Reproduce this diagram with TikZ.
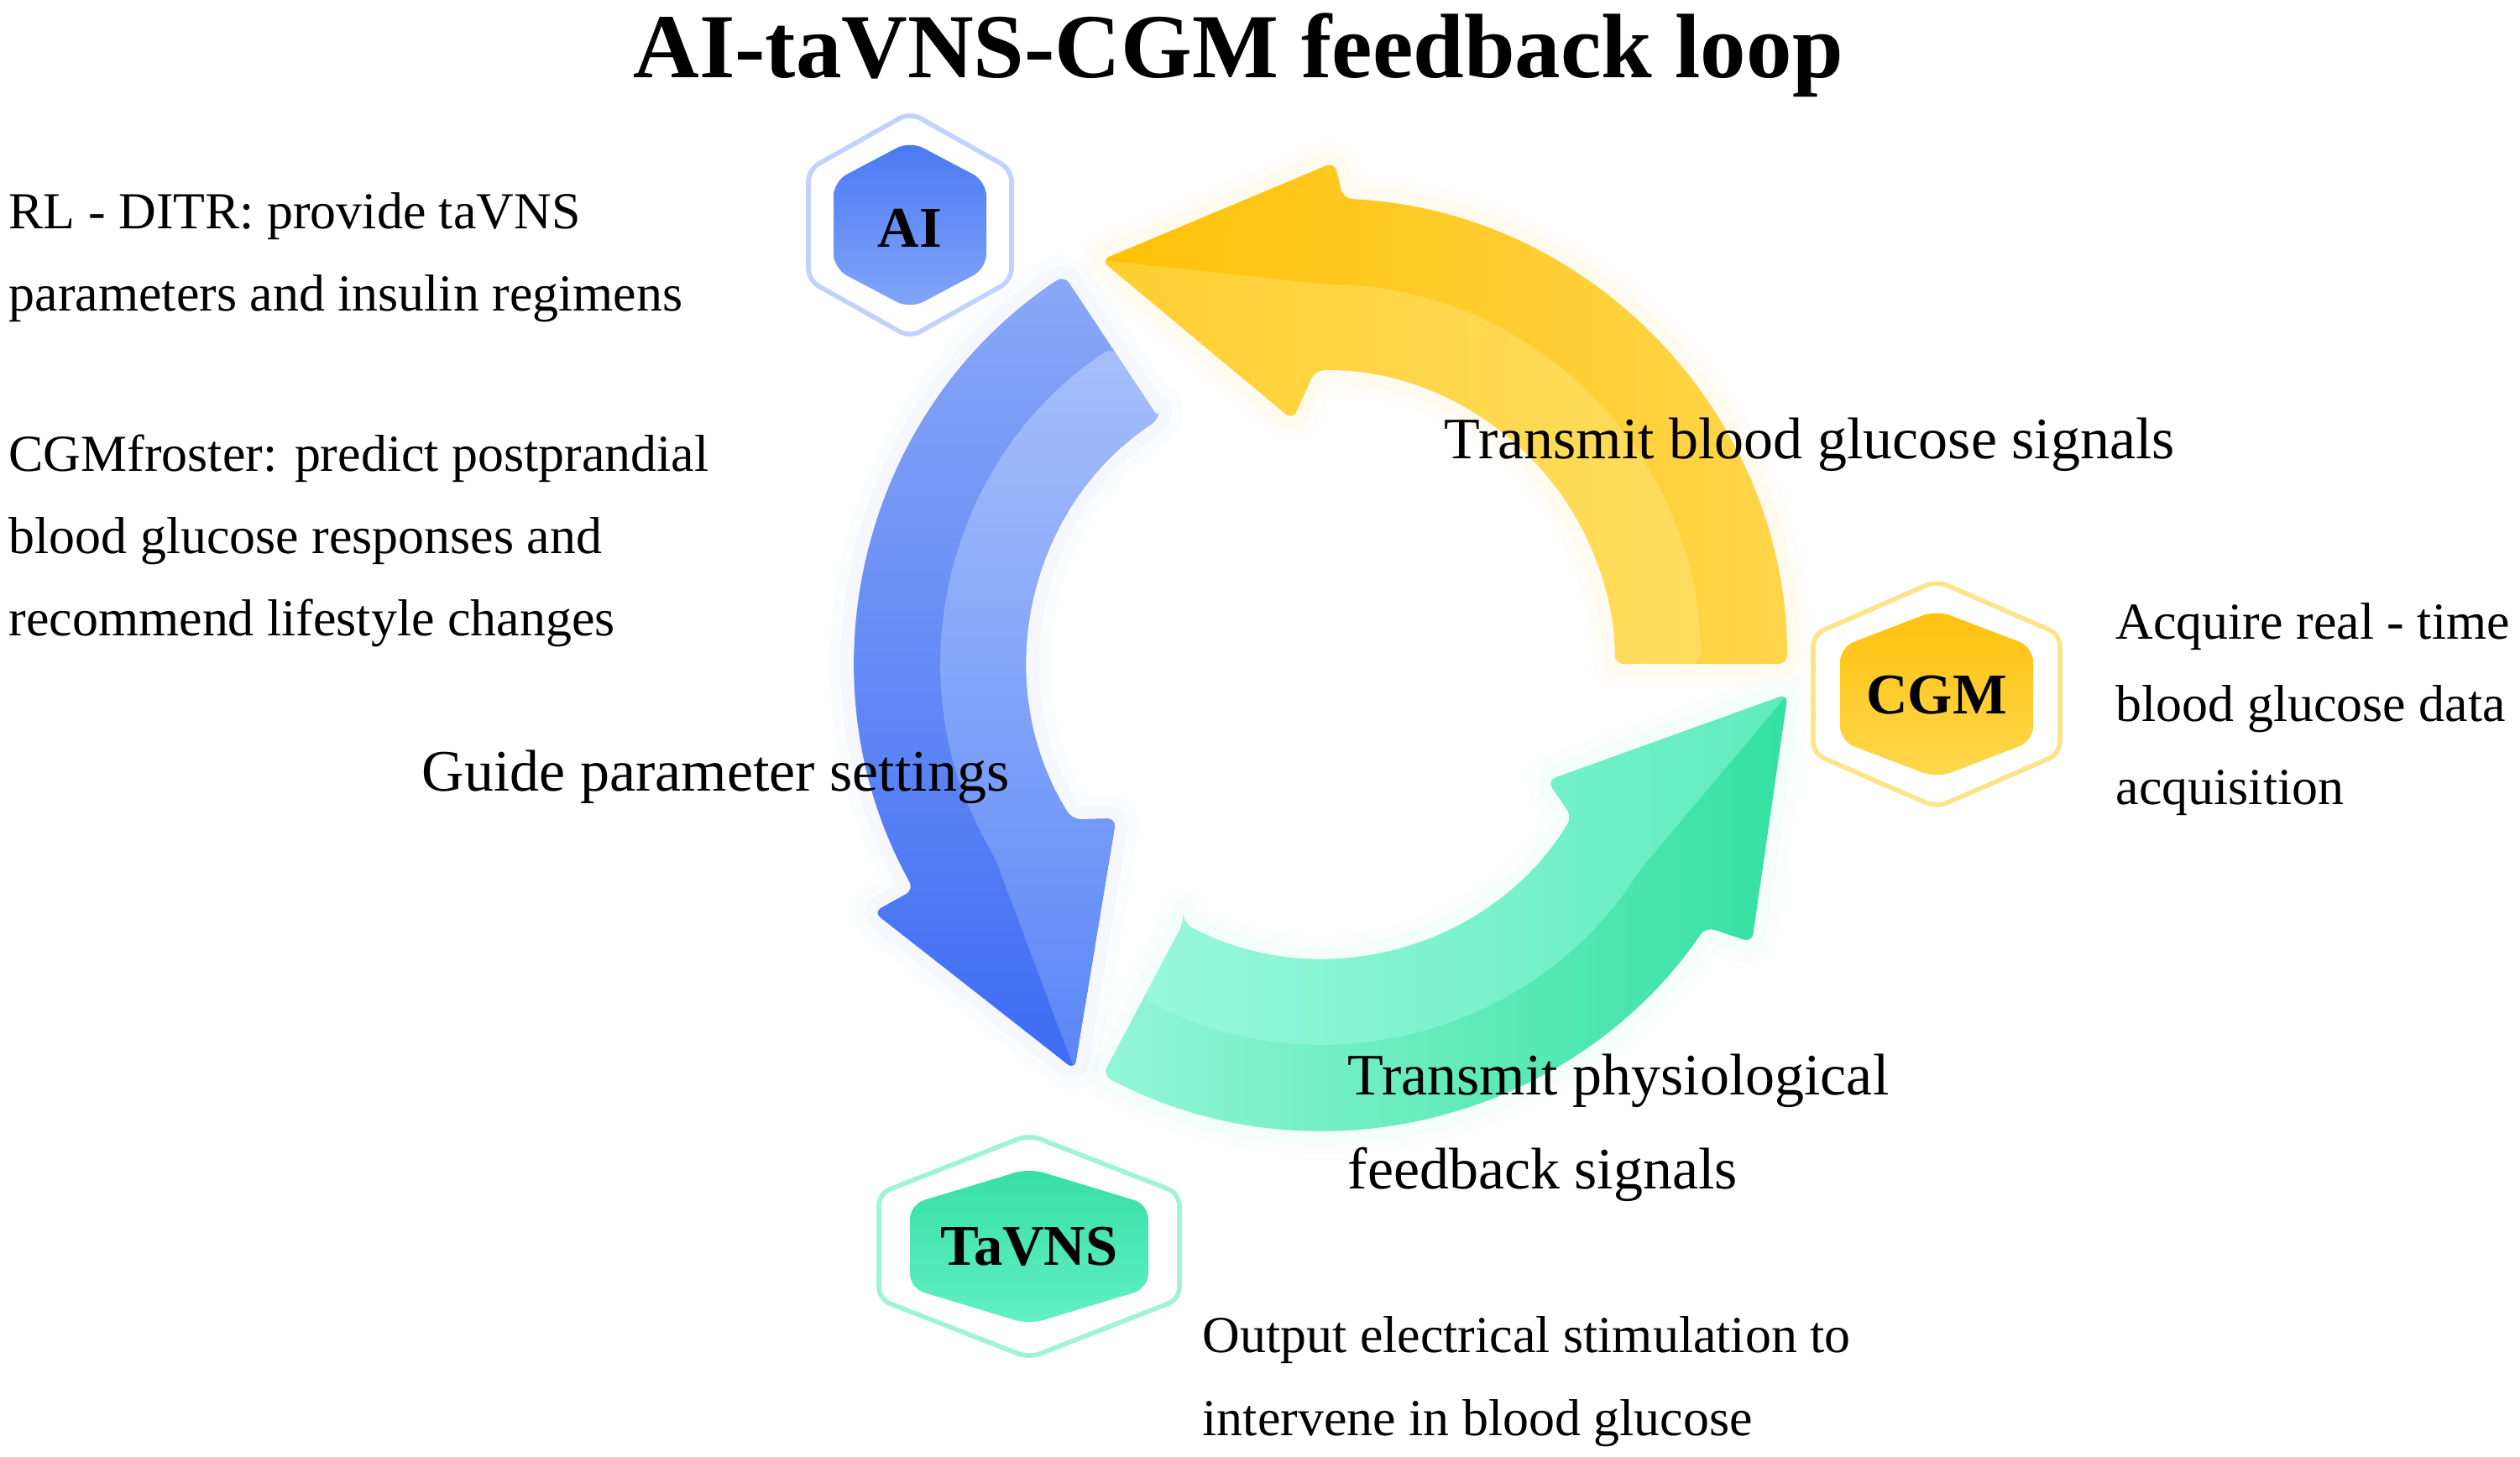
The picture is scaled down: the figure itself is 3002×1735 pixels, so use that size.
\documentclass[tikz,border=0pt]{standalone}
\usepackage{fontspec}
\setmainfont{Liberation Serif}
\usetikzlibrary{calc}
\definecolor{yOutA}{HTML}{FFC107}
\definecolor{yOutB}{HTML}{FFD54A}
\definecolor{yInA}{HTML}{FFCF30}
\definecolor{yInB}{HTML}{FFDD60}
\definecolor{bOutA}{HTML}{8AA8F7}
\definecolor{bOutB}{HTML}{3D6CF3}
\definecolor{bInA}{HTML}{A6BFFB}
\definecolor{bInB}{HTML}{5A86F6}
\definecolor{gOutA}{HTML}{93F6D6}
\definecolor{gOutM}{HTML}{86F2CF}
\definecolor{gOutB}{HTML}{34E0A2}
\definecolor{gInA}{HTML}{98F8DB}
\definecolor{gInM}{HTML}{8DF5D4}
\definecolor{gInB}{HTML}{5EECBD}
\definecolor{aiTop}{HTML}{4A78F4}
\definecolor{aiBot}{HTML}{82A6F9}
\definecolor{aiRing}{HTML}{C3D2FD}
\definecolor{cgmTop}{HTML}{FFC10D}
\definecolor{cgmBot}{HTML}{FFD84D}
\definecolor{cgmRing}{HTML}{FFE38A}
\definecolor{tvTop}{HTML}{36DFA5}
\definecolor{tvBot}{HTML}{62F0C4}
\definecolor{tvRing}{HTML}{A0F3D9}
\newcommand\hexagonpath[5]{({#1},{#2+#4}) -- ({#1+#3},{#2+#5}) -- ({#1+#3},{#2-#5}) -- ({#1},{#2-#4}) -- ({#1-#3},{#2-#5}) -- ({#1-#3},{#2+#5}) -- cycle}
\begin{document}
\begin{tikzpicture}[x=0.01cm,y=0.01cm,
  bodytext/.style={font=\fontsize{17.6}{27.9}\selectfont, align=left, anchor=base west, inner sep=0pt},
  looplabel/.style={font=\fontsize{19.9}{31.6}\selectfont, align=left, anchor=base west, inner sep=0pt},
  hexlabel/.style={font=\bfseries\fontsize{19.5}{22}\selectfont, inner sep=0pt},
  hexring/.style={line width=1.6pt, rounded corners=4pt},
  hexcore/.style={rounded corners=5pt}]
\fill[white] (0,0) rectangle (3002,1735);
\useasboundingbox (0,0) rectangle (3002,1735);

% title
\node[font=\bfseries\fontsize{31}{36}\selectfont, anchor=base, inner sep=0pt] (title) at (1475,1642) {AI-taVNS-CGM feedback loop};

% ring of arrows
\begin{scope}[shift={(1574,944)}, rounded corners=3pt]
\def\Ro{555}\def\Ri{350}\def\Rm{452}
% yellow
\def\yfull{(0:\Ri) -- (0:\Ro) arc[start angle=0,end angle=87.3,radius=\Ro] -- (88.5:598) -- (118.6:548) -- (96.7:293) -- (91.2:\Ri) arc[start angle=91.2,end angle=0,radius=\Ri] -- cycle}
\def\yhalf{(0:\Ri) -- (0:\Rm) arc[start angle=0,end angle=89.2,radius=\Rm] -- (118.6:548) -- (96.7:293) -- (91.2:\Ri) arc[start angle=91.2,end angle=0,radius=\Ri] -- cycle}
% blue
\def\bfull{(123.5:\Ri) -- (123.5:\Ro) arc[start angle=123.5,end angle=209,radius=\Ro] -- (209:610) -- (238.7:566) -- (217:306) -- (212:\Ri) arc[start angle=212,end angle=123.5,radius=\Ri] -- cycle}
\def\bhalf{(123.5:\Ri) -- (123.5:\Rm) arc[start angle=123.5,end angle=210.5,radius=\Rm] -- (238.7:566) -- (217:306) -- (212:\Ri) arc[start angle=212,end angle=123.5,radius=\Ri] -- cycle}
% green
\def\gfull{(242:\Ri) -- (242:\Ro) arc[start angle=242,end angle=325.6,radius=\Ro] -- (327.1:611) -- (356.3:557) -- (332.7:303) -- (328.6:\Ri) arc[start angle=328.6,end angle=242,radius=\Ri] -- cycle}
\def\ghalf{(242:\Ri) -- (242:\Rm) arc[start angle=242,end angle=327.1,radius=\Rm] -- (356.3:557) -- (332.7:303) -- (328.6:\Ri) arc[start angle=328.6,end angle=242,radius=\Ri] -- cycle}
% faint soft glow
\foreach \w/\o in {16/0.03,9/0.05}{
  \draw[yOutB, line width=\w pt, opacity=\o, line join=round] \yfull;
  \draw[bOutA, line width=\w pt, opacity=\o, line join=round] \bfull;
  \draw[gOutA, line width=\w pt, opacity=\o, line join=round] \gfull;
}
\shade[left color=yOutA, right color=yOutB] \yfull;
\shade[left color=yInA, right color=yInB] \yhalf;
\shade[top color=bOutA, bottom color=bOutB] \bfull;
\shade[top color=bInA, bottom color=bInB] \bhalf;
\shade[left color=gOutA, middle color=gOutM, right color=gOutB] \gfull;
\shade[left color=gInA, middle color=gInM, right color=gInB] \ghalf;
\end{scope}

% hexagons
\draw[hexring, aiRing] \hexagonpath{1084}{1467}{121}{134}{66};
\shade[hexcore, top color=aiTop, bottom color=aiBot] \hexagonpath{1084}{1467}{91}{100}{52};
\node[hexlabel] (ai) at (1084,1463) {AI};

\draw[hexring, cgmRing] \hexagonpath{2307}{908}{147}{135}{71};
\shade[hexcore, top color=cgmTop, bottom color=cgmBot] \hexagonpath{2307}{908}{115}{100}{56};
\node[hexlabel] (cgm) at (2307,907) {CGM};

\draw[hexring, tvRing] \hexagonpath{1226}{250}{179}{133}{63};
\shade[hexcore, top color=tvTop, bottom color=tvBot] \hexagonpath{1226}{250}{142}{93}{50};
\node[hexlabel] (tavns) at (1226,250) {TaVNS};

% loop labels (anchor = baseline of last line)
\node[looplabel] (lblcgm) at (1720,1188) {Transmit blood glucose signals};
\node[looplabel] (lblai) at (502,793) {Guide parameter settings};
\node[looplabel] (lbltv) at (1605,319) {Transmit physiological\\feedback signals};

% descriptions (anchor = baseline of last line)
\node[bodytext] (rl) at (10,1364) {RL - DITR: provide taVNS\\parameters and insulin regimens};
\node[bodytext] (cgmf) at (10,977) {CGMfroster: predict postprandial\\blood glucose responses and\\recommend lifestyle changes};
\node[bodytext] (acq) at (2520,777) {Acquire real - time\\blood glucose data\\acquisition};
\node[bodytext] (outp) at (1432,25) {Output electrical stimulation to\\intervene in blood glucose};
\end{tikzpicture}
\end{document}
